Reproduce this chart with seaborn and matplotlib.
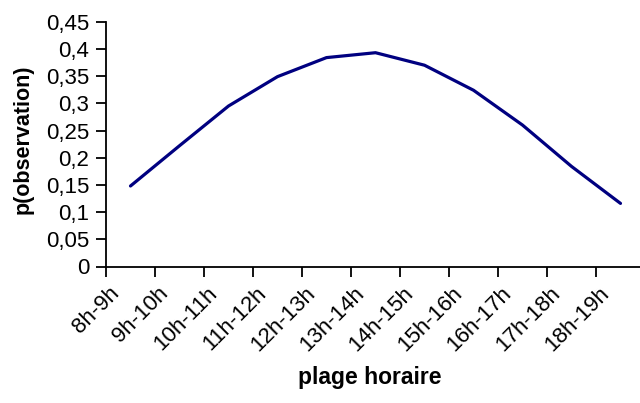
import seaborn as sns
import matplotlib.pyplot as plt
from matplotlib.ticker import FuncFormatter, FixedLocator
import pandas as pd

plages = ["8h-9h", "9h-10h", "10h-11h", "11h-12h", "12h-13h", "13h-14h",
          "14h-15h", "15h-16h", "16h-17h", "17h-18h", "18h-19h"]
p_obs = [0.148, 0.222, 0.295, 0.349, 0.384, 0.393, 0.370, 0.324, 0.260, 0.184, 0.116]

df = pd.DataFrame({"pos": range(len(plages)), "plage": plages, "p": p_obs})

sns.set_theme(style="white", rc={"text.color": "black", "axes.labelcolor": "black",
                                 "xtick.color": "black", "ytick.color": "black"})
plt.rcParams['font.family'] = ['Liberation Sans', 'DejaVu Sans']

fig = plt.figure(figsize=(6.4, 4.03), dpi=100)
ax = fig.add_axes([106 / 640, 1 - 266.5 / 403, 539 / 640, (266.5 - 21.7) / 403])

sns.lineplot(data=df, x="pos", y="p", color="#000080", linewidth=2.3, ax=ax)

ax.set_xlim(-0.5, len(plages) - 0.5)
ax.set_ylim(0, 0.45)
ax.set_yticks([i * 0.05 for i in range(10)])
ax.yaxis.set_major_formatter(FuncFormatter(
    lambda v, _: ("%.2f" % v).rstrip("0").rstrip(".").replace(".", ",")))

# excel puts the end of each rotated label a little left of the category centre
ax.set_xticks(df["pos"] - 0.3)
ax.set_xticklabels(plages, rotation=45, ha="right", va="center", rotation_mode="anchor")
ax.xaxis.set_minor_locator(FixedLocator([i - 0.5 for i in range(len(plages) + 1)]))
ax.tick_params(axis="x", which="major", length=0, pad=17, labelsize=16)
ax.tick_params(axis="x", which="minor", length=7, width=1.3, color="black", direction="out")
ax.tick_params(axis="y", length=7, width=1.3, color="black", direction="out", pad=5, labelsize=16)
ax.xaxis.set_tick_params(which="minor", bottom=True)
ax.yaxis.set_tick_params(left=True)

for s in ["top", "right"]:
    ax.spines[s].set_visible(False)
for s in ["left", "bottom"]:
    ax.spines[s].set_color("black")
    ax.spines[s].set_linewidth(1.3)

ax.set_xlabel("plage horaire", fontsize=16.5, fontweight="bold", va="top")
ax.xaxis.set_label_coords(0.49, -0.405)
ax.set_ylabel("p(observation)", fontsize=15.5, fontweight="bold")
ax.yaxis.set_label_coords(-0.135, 0.52)

fig.savefig("out.png", dpi=100)
